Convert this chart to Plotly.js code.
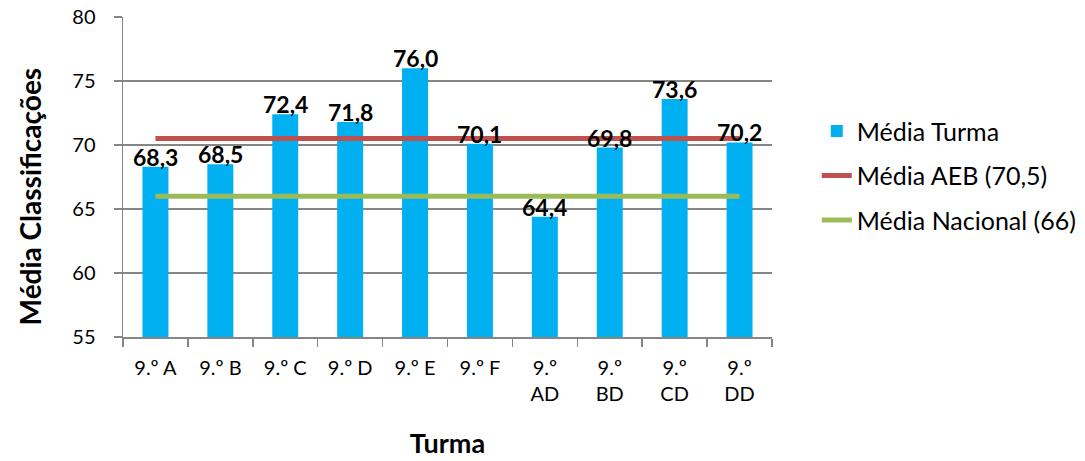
<!DOCTYPE html>
<html>
<head>
<meta charset="utf-8">
<script src="https://cdn.plot.ly/plotly-3.0.1.min.js"></script>
<style>html,body{margin:0;padding:0;background:#fff;}#chart{width:1085px;height:461px;}</style>
</head>
<body>
<div id="chart"></div>
<script>
const categories = ["9.º A","9.º B","9.º C","9.º D","9.º E","9.º F","9.º<br>AD","9.º<br>BD","9.º<br>CD","9.º<br>DD"];
const mediaTurma = [68.3, 68.5, 72.4, 71.8, 76.0, 70.1, 64.4, 69.8, 73.6, 70.2];
const mediaAEB = [70.5, 70.5, 70.5, 70.5, 70.5, 70.5, 70.5, 70.5, 70.5, 70.5];
const mediaNacional = [66, 66, 66, 66, 66, 66, 66, 66, 66, 66];
const yTicks = [55, 60, 65, 70, 75, 80];

const font = "Lato, Open Sans, sans-serif";

const traces = [
  {
    type: "bar", x: categories, y: mediaTurma, name: "Média Turma",
    marker: {color: "#00B0F0"},
    legendgroup: "a", hoverinfo: "skip"
  },
  {
    type: "scatter", mode: "lines", x: categories, y: mediaAEB, name: "Média AEB (70,5)",
    line: {color: "#C0504D", width: 5}, legendgroup: "b"
  },
  {
    type: "scatter", mode: "lines", x: categories, y: mediaNacional, name: "Média Nacional (66)",
    line: {color: "#9BBB59", width: 5}, legendgroup: "c"
  }
];

const annotations = categories.map((c, i) => ({
  x: c, y: mediaTurma[i], xref: "x", yref: "y",
  text: "<b>" + mediaTurma[i].toFixed(1).replace(".", ",") + "</b>",
  showarrow: false, yanchor: "bottom", yshift: -6,
  font: {family: font, size: 23, color: "#000"}
}));
annotations.push({
  xref: "paper", yref: "paper", x: -0.143, y: 0.44,
  xanchor: "center", yanchor: "middle", textangle: -90, showarrow: false,
  text: "<b>Média Classificações</b>",
  font: {family: font, size: 28, color: "#000"}
});

const layout = {
  width: 1085, height: 461,
  margin: {l: 123, r: 313, t: 17, b: 124, autoexpand: false},
  paper_bgcolor: "#fff", plot_bgcolor: "#fff",
  separators: ",.",
  bargap: 0.6,
  showlegend: true,
  font: {family: font, size: 20, color: "#000"},
  annotations: annotations,
  xaxis: {
    type: "category",
    tickson: "boundaries", ticks: "outside", ticklen: 8, tickcolor: "#868686", tickwidth: 1.5,
    ticklabelstandoff: 12,
    showline: true, linecolor: "#868686", linewidth: 1.5,
    showgrid: false,
    tickfont: {family: font, size: 20, color: "#000"},
    title: {text: "<b>Turma</b>", font: {family: font, size: 27, color: "#000"}, standoff: 30}
  },
  yaxis: {
    range: [55, 80], tickvals: yTicks, ticktext: yTicks.map(String),
    ticks: "outside", ticklen: 8, tickcolor: "#868686", tickwidth: 1.5,
    ticklabelstandoff: 14,
    showline: true, linecolor: "#868686", linewidth: 1.5,
    showgrid: true, gridcolor: "#868686", gridwidth: 1.5,
    zeroline: false,
    tickfont: {family: font, size: 20, color: "#000"}
  },
  legend: {
    x: 1.069, xanchor: "left", y: 0.715, yanchor: "top",
    font: {family: font, size: 25, color: "#000"},
    traceorder: "grouped", tracegroupgap: 9,
    bgcolor: "rgba(0,0,0,0)"
  }
};

Plotly.newPlot("chart", traces, layout, {displayModeBar: false, staticPlot: true});
</script>
</body>
</html>
